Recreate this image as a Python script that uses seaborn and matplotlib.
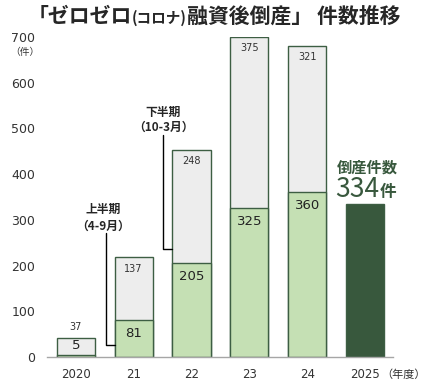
import numpy as np
import pandas as pd
import matplotlib
matplotlib.use("Agg")
import matplotlib.pyplot as plt
from matplotlib.offsetbox import TextArea, HPacker, AnchoredOffsetbox
import seaborn as sns

# データ（件）
years = ["2020", "21", "22", "23", "24", "2025"]
first_half = [5, 81, 205, 325, 360, np.nan]     # 上半期（4-9月）
second_half = [37, 137, 248, 375, 321, np.nan]  # 下半期（10-3月）
fy2025 = 334
y_ticks = [0, 100, 200, 300, 400, 500, 600, 700]

LIGHT_GREEN = "#c5e0b4"
GRAY = "#ededed"
DARK_GREEN = "#38583d"
EDGE = "#3d5e43"
TXT = "#333333"
JP = ["Noto Sans CJK JP", "DejaVu Sans"]
BAR_W = 0.66

df = pd.DataFrame({"year": years, "first": first_half, "second": second_half})
df["total"] = df["first"] + df["second"]
df.loc[df["year"] == "2025", "total"] = fy2025

sns.set_style("white")
plt.rcParams["font.family"] = ["DejaVu Sans", "Noto Sans CJK JP"]

fig = plt.figure(figsize=(4.34, 3.86), dpi=100)
ax = fig.add_axes([0.108, 0.075, 0.797, 0.829])

top_colors = [GRAY] * 5 + [DARK_GREEN]
sns.barplot(data=df, x="year", y="total", hue="year", order=years, palette=top_colors,
            legend=False, width=BAR_W, edgecolor=EDGE, linewidth=1, saturation=1, ax=ax)
sns.barplot(data=df, x="year", y="first", order=years, color=LIGHT_GREEN,
            width=BAR_W, edgecolor=EDGE, linewidth=1, saturation=1, ax=ax)

# 数値ラベル
for i, (f, s) in enumerate(zip(first_half, second_half)):
    if np.isnan(f):
        continue
    dy = -9.5 if f > 40 else 6.5
    ax.annotate(f"{f:.0f}", (i, f), xytext=(0, dy), textcoords="offset points",
                ha="center", va="center", fontsize=9.5, color="#222222")
    dy2 = -8 if s > 60 else 8
    ax.annotate(f"{s:.0f}", (i, f + s), xytext=(0, dy2), textcoords="offset points",
                ha="center", va="center", fontsize=7, color=TXT)

# 上半期 / 下半期 の引き出し線
ax.text(0.475, 323, "上半期", ha="center", va="center", fontsize=8.5,
        fontweight="bold", family=JP)
ax.text(0.475, 286, "（4-9月）", ha="center", va="center", fontsize=8.5,
        fontweight="bold", family=JP)
ax.plot([0.527, 0.527, 1 - BAR_W / 2], [271, 26, 26], color="black", lw=1)

ax.text(1.51, 535, "下半期", ha="center", va="center", fontsize=8.5,
        fontweight="bold", family=JP)
ax.text(1.51, 502, "（10-3月）", ha="center", va="center", fontsize=8.5,
        fontweight="bold", family=JP)
ax.plot([1.511, 1.511, 2 - BAR_W / 2], [485, 236, 236], color="black", lw=1)

# 2025年度
ax.text(4.515, 415, "倒産件数", ha="left", va="center", fontsize=11,
        fontweight="bold", color=DARK_GREEN, family=JP)
num_box = HPacker(children=[
    TextArea("334", textprops=dict(fontsize=19, color=DARK_GREEN, family=JP)),
    TextArea("件", textprops=dict(fontsize=12, color=DARK_GREEN, family=JP, fontweight="bold")),
], align="baseline", pad=0, sep=0)
ax.add_artist(AnchoredOffsetbox(loc="lower left", child=num_box, pad=0, borderpad=0,
                                frameon=False, bbox_to_anchor=(4.49, 336),
                                bbox_transform=ax.transData))

# 軸
ax.set_ylim(0, 700)
ax.set_xlim(-0.5, 5.48)
ax.set_yticks(y_ticks)
ax.set_xlabel("")
ax.set_ylabel("")
ax.tick_params(axis="x", length=0, pad=8, labelsize=8.5, labelcolor=TXT)
ax.tick_params(axis="y", length=0, pad=8.5, labelsize=9, labelcolor=TXT)
for side in ["left", "top", "right"]:
    ax.spines[side].set_visible(False)
ax.spines["bottom"].set_color("#a6a6a6")
ax.spines["bottom"].set_linewidth(1)

ax.annotate("（件）", (0, 700), xycoords=("axes fraction", "data"), xytext=(-16, -10.5),
            textcoords="offset points", ha="center", va="center", fontsize=7,
            color=TXT, family=JP)
ax.annotate("（年度）", (1, 0), xycoords="axes fraction", xytext=(-8, -12.5),
            textcoords="offset points", ha="left", va="center", fontsize=8,
            color=TXT, family=JP)

# タイトル
title_box = HPacker(children=[
    TextArea("「ゼロゼロ", textprops=dict(fontsize=15, fontweight="bold", family=JP)),
    TextArea("(コロナ)", textprops=dict(fontsize=10.5, fontweight="bold", family=JP)),
    TextArea("融資後倒産」 件数推移", textprops=dict(fontsize=15, fontweight="bold", family=JP)),
], align="baseline", pad=0, sep=0)
fig.add_artist(AnchoredOffsetbox(loc="upper center", child=title_box, pad=0, borderpad=0,
                                 frameon=False, bbox_to_anchor=(0.493, 0.985),
                                 bbox_transform=fig.transFigure))

fig.savefig("out.png", dpi=100)
